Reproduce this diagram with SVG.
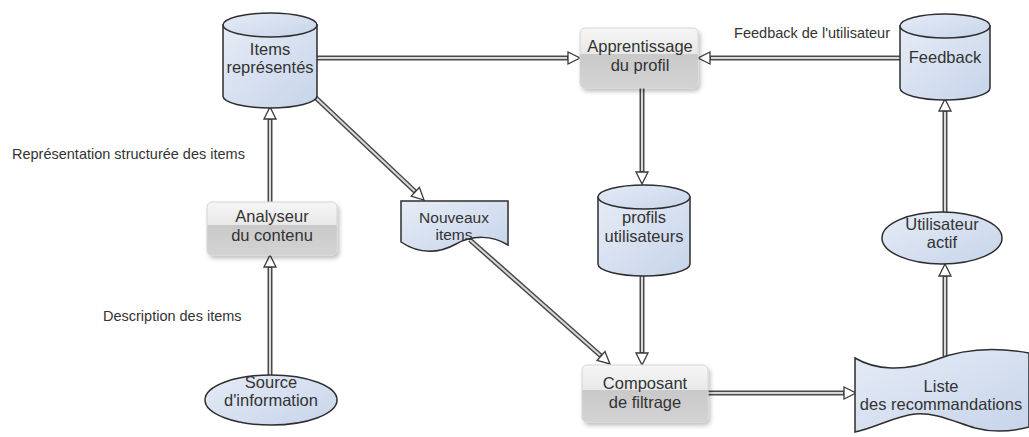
<svg xmlns="http://www.w3.org/2000/svg" width="1029" height="437" viewBox="0 0 1029 437">
  <style>
    .node { font-family: "Liberation Sans", Arial, sans-serif; font-size: 16.5px; fill: #333; text-anchor: middle; }
    .label { font-family: "Liberation Sans", Arial, sans-serif; font-size: 14.5px; fill: #333; }
    .blue { fill: url(#blueFill); stroke: #2e2e2e; stroke-width: 1.5; }
    .box { fill: url(#boxFill); stroke: #d4d4d4; stroke-width: 1; filter: url(#shadow); }
    .wire-out { fill: none; stroke: #4a4a4a; stroke-width: 5; marker-end: url(#arrow); }
    .wire-in { fill: none; stroke: #d9d9d9; stroke-width: 2; }
  </style>
  <defs>
    <linearGradient id="blueFill" x1="0" y1="0" x2="1" y2="1">
      <stop offset="0" stop-color="#e6ecf6"/>
      <stop offset="1" stop-color="#c6d4ea"/>
    </linearGradient>
    <linearGradient id="boxFill" x1="0" y1="0" x2="0" y2="1">
      <stop offset="0" stop-color="#f6f6f6"/>
      <stop offset="0.44" stop-color="#e8e8e8"/>
      <stop offset="0.44" stop-color="#c9c9c9"/>
      <stop offset="1" stop-color="#d3d3d3"/>
    </linearGradient>
    <filter id="shadow" x="-10%" y="-10%" width="125%" height="135%">
      <feDropShadow dx="2" dy="3" stdDeviation="2" flood-color="#000" flood-opacity="0.25"/>
    </filter>
    <marker id="arrow" viewBox="-2 -8 16 16" markerWidth="16" markerHeight="16" refX="0" refY="0" orient="auto" markerUnits="userSpaceOnUse">
      <path d="M0,-6 L12,0 L0,6 Z" fill="#fff" stroke="#3a3a3a" stroke-width="1.3" stroke-linejoin="miter"/>
    </marker>
  </defs>

  <rect width="1029" height="437" fill="#fff"/>

  <!-- connectors: outer dark stroke with light core, hollow arrowheads -->
  <g id="connectors">
    <path class="wire-out" d="M317,58 L568,58"/>
    <path class="wire-in" d="M317,58 L567,58"/>
    <path class="wire-out" d="M900,58 L710,58"/>
    <path class="wire-in" d="M900,58 L711,58"/>
    <path class="wire-out" d="M642,88 L642,172"/>
    <path class="wire-in" d="M642,88 L642,171"/>
    <path class="wire-out" d="M642,276 L642,353"/>
    <path class="wire-in" d="M642,276 L642,352"/>
    <path class="wire-out" d="M315,97 L415.3,191.8"/>
    <path class="wire-in" d="M315,97 L414.6,191.1"/>
    <path class="wire-out" d="M470,240 L601,356"/>
    <path class="wire-in" d="M470,240 L600.2,355.3"/>
    <path class="wire-out" d="M270,202 L270,119"/>
    <path class="wire-in" d="M270,202 L270,120"/>
    <path class="wire-out" d="M270,375 L270,267"/>
    <path class="wire-in" d="M270,375 L270,268"/>
    <path class="wire-out" d="M708,393 L844,393"/>
    <path class="wire-in" d="M708,393 L843,393"/>
    <path class="wire-out" d="M945,356 L945,276"/>
    <path class="wire-in" d="M945,356 L945,277"/>
    <path class="wire-out" d="M945,212 L945,111"/>
    <path class="wire-in" d="M945,212 L945,112"/>
  </g>

  <!-- edge labels -->
  <g id="labels">
    <text class="label" x="890" y="38" text-anchor="end">Feedback de l'utilisateur</text>
    <text class="label" x="12" y="159">Représentation structurée des items</text>
    <text class="label" x="103" y="321">Description des items</text>
  </g>

  <g id="items-representes">
    <path class="blue" d="M223,25 L223,96 A47,12 0 0 0 317,96 L317,25 Z"/>
    <ellipse class="blue" cx="270" cy="25" rx="47" ry="12"/>
    <text class="node" x="270" y="55">Items</text>
    <text class="node" x="270" y="73">représentés</text>
  </g>

  <g id="apprentissage-profil">
    <rect class="box" x="580" y="28" width="118" height="60" rx="5"/>
    <text class="node" x="640" y="52">Apprentissage</text>
    <text class="node" x="640" y="71">du profil</text>
  </g>

  <g id="feedback">
    <path class="blue" d="M900,26 L900,88 A45,12 0 0 0 990,88 L990,26 Z"/>
    <ellipse class="blue" cx="945" cy="26" rx="45" ry="12"/>
    <text class="node" x="945" y="63">Feedback</text>
  </g>

  <g id="analyseur-contenu">
    <rect class="box" x="207" y="202" width="130" height="53" rx="5"/>
    <text class="node" x="272" y="222">Analyseur</text>
    <text class="node" x="272" y="241">du contenu</text>
  </g>

  <g id="nouveaux-items">
    <path class="blue" d="M401,201 L508,201 L508,245 C492,235 472,235 456,244 C440,253 420,255 401,242 Z"/>
    <text class="node" x="454" y="223" style="font-size:15.5px">Nouveaux</text>
    <text class="node" x="454" y="240" style="font-size:15.5px">items</text>
  </g>

  <g id="profils-utilisateurs">
    <path class="blue" d="M598,197 L598,264 A46,12 0 0 0 690,264 L690,197 Z"/>
    <ellipse class="blue" cx="644" cy="197" rx="46" ry="12"/>
    <text class="node" x="644" y="223">profils</text>
    <text class="node" x="644" y="242">utilisateurs</text>
  </g>

  <g id="utilisateur-actif">
    <ellipse class="blue" cx="942" cy="238" rx="60" ry="26"/>
    <text class="node" x="942" y="230">Utilisateur</text>
    <text class="node" x="942" y="248">actif</text>
  </g>

  <g id="source-information">
    <ellipse class="blue" cx="271" cy="400" rx="66" ry="25"/>
    <text class="node" x="271" y="388">Source</text>
    <text class="node" x="271" y="406">d'information</text>
  </g>

  <g id="composant-filtrage">
    <rect class="box" x="582" y="365" width="126" height="57" rx="5"/>
    <text class="node" x="645" y="389">Composant</text>
    <text class="node" x="645" y="408">de filtrage</text>
  </g>

  <g id="liste-recommandations">
    <path class="blue" d="M855,358 C875,370 905,372 935,360 C960,350 990,346 1029,353 L1029,427 C1010,432 990,432 975,428 C955,422 935,412 915,414 C895,416 875,428 855,432 Z"/>
    <text class="node" x="941" y="392">Liste</text>
    <text class="node" x="941" y="410">des recommandations</text>
  </g>
</svg>
